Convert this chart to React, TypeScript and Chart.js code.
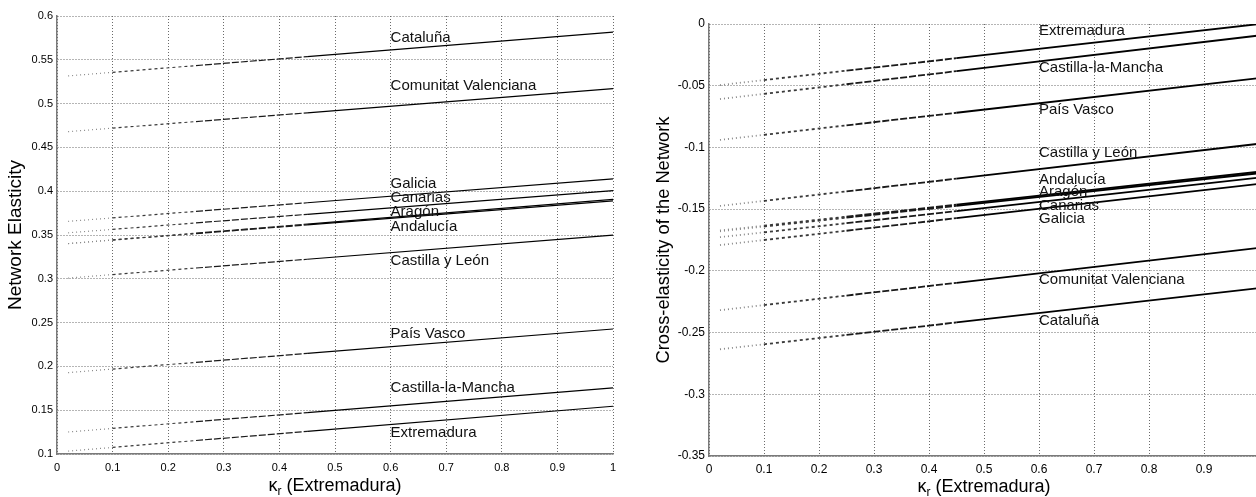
import React, { useEffect, useRef } from "react";
import { Chart, registerables } from "chart.js";

Chart.register(...registerables);

// ---------- data ----------
const KAPPA_X = [0.02, 0.1, 0.25, 0.45, 1.0];

const REGION_NAMES = [
  "Cataluña",
  "Comunitat Valenciana",
  "Galicia",
  "Canarias",
  "Aragón",
  "Andalucía",
  "Castilla y León",
  "País Vasco",
  "Castilla-la-Mancha",
  "Extremadura",
];

// Network elasticity (left panel)
const NE_CATALUNA = [0.5316, 0.5357, 0.5434, 0.5536, 0.5817];
const NE_COM_VALENCIANA = [0.468, 0.472, 0.4795, 0.4895, 0.517];
const NE_GALICIA = [0.3656, 0.3695, 0.377, 0.3868, 0.414];
const NE_CANARIAS = [0.3525, 0.3564, 0.3638, 0.3736, 0.4006];
const NE_ARAGON = [0.3402, 0.3444, 0.3521, 0.3624, 0.3907];
const NE_ANDALUCIA = [0.3402, 0.3442, 0.3516, 0.3615, 0.389];
const NE_CASTILLA_LEON = [0.3008, 0.3048, 0.3123, 0.3223, 0.3498];
const NE_PAIS_VASCO = [0.1929, 0.197, 0.2046, 0.2148, 0.2427];
const NE_CASTILLA_MANCHA = [0.1251, 0.1292, 0.137, 0.1472, 0.1755];
const NE_EXTREMADURA = [0.1033, 0.1075, 0.1154, 0.1258, 0.1545];

// Label heights (left panel), same order as REGION_NAMES
const NE_LABEL_Y = [0.575, 0.52, 0.408, 0.392, 0.376, 0.359, 0.32, 0.237, 0.175, 0.124];

// Cross-elasticity of the network (right panel)
const CE_CATALUNA = [-0.2635, -0.2595, -0.2519, -0.2418, -0.214];
const CE_COM_VALENCIANA = [-0.2319, -0.2277, -0.22, -0.2097, -0.1813];
const CE_GALICIA = [-0.1791, -0.175, -0.1675, -0.1573, -0.1295];
const CE_CANARIAS = [-0.1727, -0.1688, -0.1614, -0.1516, -0.1245];
const CE_ARAGON = [-0.1679, -0.1641, -0.1569, -0.1473, -0.1209];
const CE_ANDALUCIA = [-0.1673, -0.1634, -0.1561, -0.1464, -0.1197];
const CE_CASTILLA_LEON = [-0.1474, -0.1433, -0.1356, -0.1253, -0.097];
const CE_PAIS_VASCO = [-0.0939, -0.0898, -0.0821, -0.0719, -0.0438];
const CE_CASTILLA_MANCHA = [-0.0608, -0.0566, -0.0488, -0.0382, -0.0093];
const CE_EXTREMADURA = [-0.0495, -0.0454, -0.0378, -0.0277, 0.0];

// Label heights (right panel), same order as REGION_NAMES
const CE_LABEL_Y = [-0.2407, -0.2075, -0.158, -0.1472, -0.1364, -0.1264, -0.104, -0.0697, -0.0359, -0.0057];

const LABEL_X = 0.6;

const NE_TICKS = { min: 0.1, max: 0.6, step: 0.05 };
const CE_TICKS = { min: -0.35, max: 0, step: 0.05 };
const X_TICKS = { min: 0, max: 1, step: 0.1 };

// ---------- styles ----------
const FONT = "'Liberation Sans', Arial, Helvetica, sans-serif";
const SEGMENT_DASH = [[1, 3], [3, 3], [7, 2], []];
const SEGMENT_COLOR = ["#8a8a8a", "#3a3a3a", "#1a1a1a", "#000000"];

type PanelSpec = {
  pageLeft: number;
  w: number;
  h: number;
  plotLeft: number;
  plotRight: number;
  plotTop: number;
  plotBottom: number;
  series: number[][];
  labelY: number[];
  yTicks: { min: number; max: number; step: number };
  yTitle: string;
  yTitlePad: number;
  yTitleSize: number;
  tickFont: number;
  xTickPad: number;
  lineWidth: number;
  xTitleBaseline: number;
};

const fmt = (v: number) => String(Number(Number(v).toFixed(2)));

function buildConfig(spec: PanelSpec): any {
  const datasets = spec.series.map((vals, i) => ({
    label: REGION_NAMES[i],
    data: KAPPA_X.map((x, j) => ({ x, y: vals[j] })),
    borderColor: "#000",
    borderWidth: spec.lineWidth,
    pointRadius: 0,
    fill: false,
    tension: 0,
    segment: {
      borderDash: (c: any) => SEGMENT_DASH[c.p0DataIndex] || [],
      borderColor: (c: any) => SEGMENT_COLOR[c.p0DataIndex] || "#000",
    },
  }));

  const labelsPlugin = {
    id: "regionLabels",
    afterDatasetsDraw(chart: any) {
      const { ctx, scales } = chart;
      ctx.save();
      ctx.font = `15px ${FONT}`;
      ctx.fillStyle = "#111";
      ctx.textAlign = "left";
      ctx.textBaseline = "middle";
      REGION_NAMES.forEach((name, i) => {
        ctx.fillText(
          name,
          scales.x.getPixelForValue(LABEL_X),
          scales.y.getPixelForValue(spec.labelY[i])
        );
      });
      ctx.restore();
    },
  };

  const xTitlePlugin = {
    id: "xTitle",
    afterDraw(chart: any) {
      const { ctx, chartArea } = chart;
      const cx = (chartArea.left + chartArea.right) / 2;
      const base = spec.xTitleBaseline;
      ctx.save();
      ctx.fillStyle = "#000";
      ctx.textBaseline = "alphabetic";
      ctx.textAlign = "left";
      const big = `18px ${FONT}`;
      const small = `12px ${FONT}`;
      ctx.font = big;
      const wK = ctx.measureText("κ").width;
      const wRest = ctx.measureText(" (Extremadura)").width;
      ctx.font = small;
      const wR = ctx.measureText("r").width;
      let x = cx - (wK + wR + wRest) / 2;
      ctx.font = big;
      ctx.fillText("κ", x, base);
      x += wK;
      ctx.font = small;
      ctx.fillText("r", x, base + 4);
      x += wR;
      ctx.font = big;
      ctx.fillText(" (Extremadura)", x, base);
      ctx.restore();
    },
  };

  return {
    type: "line",
    data: { datasets },
    options: {
      responsive: false,
      animation: false,
      events: [],
      layout: {
        padding: {
          left: 0,
          top: spec.plotTop,
          right: spec.w - spec.plotRight,
          bottom: 0,
        },
      },
      plugins: {
        legend: { display: false },
        tooltip: { enabled: false },
        title: { display: false },
      },
      scales: {
        x: {
          type: "linear",
          min: X_TICKS.min,
          max: X_TICKS.max,
          afterFit: (s: any) => {
            s.height = spec.h - spec.plotBottom;
          },
          ticks: {
            stepSize: X_TICKS.step,
            padding: spec.xTickPad,
            color: "#000",
            font: { family: FONT, size: spec.tickFont },
            maxRotation: 0,
            autoSkip: false,
            callback: (v: any) => fmt(v),
          },
          grid: {
            color: "#6a6a6a",
            lineWidth: 1,
            drawTicks: false,
          },
          border: { display: true, color: "#7a7a7a", width: 1.5, dash: [1, 2] },
        },
        y: {
          type: "linear",
          min: spec.yTicks.min,
          max: spec.yTicks.max,
          afterFit: (s: any) => {
            s.width = spec.plotLeft;
          },
          ticks: {
            stepSize: spec.yTicks.step,
            padding: 4,
            color: "#000",
            font: { family: FONT, size: spec.tickFont },
            autoSkip: false,
            callback: (v: any) => fmt(v),
          },
          grid: {
            color: "#6a6a6a",
            lineWidth: 1,
            drawTicks: false,
          },
          border: { display: true, color: "#7a7a7a", width: 1.5, dash: [1, 2] },
          title: {
            display: true,
            text: spec.yTitle,
            color: "#000",
            font: { family: FONT, size: spec.yTitleSize },
            padding: { top: spec.yTitlePad, bottom: 0 },
          },
        },
      },
    },
    plugins: [labelsPlugin, xTitlePlugin],
  };
}

const LEFT_SPEC: PanelSpec = {
  pageLeft: 0,
  w: 628,
  h: 497,
  plotLeft: 57,
  plotRight: 613,
  plotTop: 16,
  plotBottom: 454,
  series: [
    NE_CATALUNA,
    NE_COM_VALENCIANA,
    NE_GALICIA,
    NE_CANARIAS,
    NE_ARAGON,
    NE_ANDALUCIA,
    NE_CASTILLA_LEON,
    NE_PAIS_VASCO,
    NE_CASTILLA_MANCHA,
    NE_EXTREMADURA,
  ],
  labelY: NE_LABEL_Y,
  yTicks: NE_TICKS,
  yTitle: "Network Elasticity",
  yTitlePad: 4,
  yTitleSize: 19,
  tickFont: 11,
  xTickPad: 7,
  lineWidth: 1.2,
  xTitleBaseline: 491,
};

const RIGHT_SPEC: PanelSpec = {
  pageLeft: 628,
  w: 650,
  h: 497,
  plotLeft: 81,
  plotRight: 631,
  plotTop: 24,
  plotBottom: 456,
  series: [
    CE_CATALUNA,
    CE_COM_VALENCIANA,
    CE_GALICIA,
    CE_CANARIAS,
    CE_ARAGON,
    CE_ANDALUCIA,
    CE_CASTILLA_LEON,
    CE_PAIS_VASCO,
    CE_CASTILLA_MANCHA,
    CE_EXTREMADURA,
  ],
  labelY: CE_LABEL_Y,
  yTicks: CE_TICKS,
  yTitle: "Cross-elasticity of the Network",
  yTitlePad: 25,
  yTitleSize: 18.3,
  tickFont: 12,
  xTickPad: 6,
  lineWidth: 1.8,
  xTitleBaseline: 492,
};

function Panel({ spec }: { spec: PanelSpec }) {
  const ref = useRef<HTMLCanvasElement | null>(null);
  useEffect(() => {
    if (!ref.current) return;
    const chart = new Chart(ref.current, buildConfig(spec));
    return () => chart.destroy();
  }, [spec]);
  return (
    <canvas
      ref={ref}
      width={spec.w}
      height={spec.h}
      style={{
        position: "absolute",
        left: spec.pageLeft,
        top: 0,
        width: spec.w,
        height: spec.h,
        display: "block",
      }}
    />
  );
}

export default function App() {
  return (
    <div
      style={{
        position: "absolute",
        left: 0,
        top: 0,
        width: 1256,
        height: 497,
        overflow: "hidden",
        background: "#fff",
      }}
    >
      <Panel spec={LEFT_SPEC} />
      <Panel spec={RIGHT_SPEC} />
    </div>
  );
}
